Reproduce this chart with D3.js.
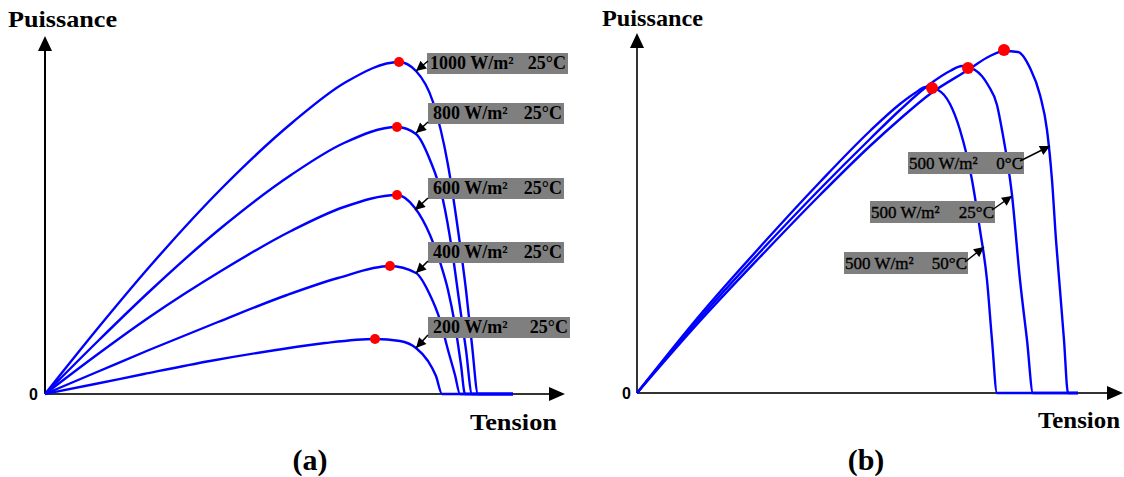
<!DOCTYPE html>
<html><head><meta charset="utf-8">
<script src="https://cdn.jsdelivr.net/npm/d3@7"></script>
<style>html,body{margin:0;padding:0;background:#fff}svg{display:block}</style>
</head><body>
<svg id="c" width="1124" height="477"></svg>
<script>
// ---------- DATA (arbitrary units: Tension, Puissance) ----------
const irradianceLabels = ["1000 W/m²", "800 W/m²", "600 W/m²", "400 W/m²", "200 W/m²"];
const tempLabelA = "25°C";
const curveA1000 = [[0,0],[5.3,6.6],[10.6,12.9],[17.7,20.6],[24.8,27.2],[30.1,31.2],[35.4,33.2],[37.1,32.3],[38.8,29.2],[40.3,22.9],[41.3,16.4],[42.1,10.4],[42.7,4.9],[43.3,0],[46.8,0]];
const curveA800  = [[0,0],[5.3,5.3],[10.6,10.4],[17.6,16.6],[24.6,21.9],[29.9,25.1],[35.2,26.7],[37.1,26.0],[38.5,23.4],[39.8,19.4],[40.7,14.4],[41.4,9.4],[42.1,4.4],[42.7,0],[46.8,0]];
const curveA600  = [[0,0],[5.3,4.0],[10.6,7.8],[17.6,12.3],[24.6,16.3],[29.9,18.7],[35.2,19.9],[37,18.6],[38.5,15.9],[39.5,13.2],[40.3,10.4],[41,6.9],[41.6,2.9],[42,0],[46.8,0]];
const curveA400  = [[0,0],[5.2,2.2],[10.4,4.4],[17.3,7.2],[24.2,9.9],[29.3,11.6],[34.5,12.8],[37.1,12.1],[38.5,9.9],[39.5,7.4],[40.3,4.4],[41,1.9],[41.5,0],[46.8,0]];
const curveA200  = [[0,0],[5,1.0],[9.9,2.0],[16.5,3.3],[23.1,4.4],[28,5.1],[33,5.5],[35.5,5.3],[37.1,4.6],[38.3,3.3],[39.1,1.8],[39.7,0],[46.8,0]];
const mppA = [[35.4,33.2],[35.2,26.7],[35.2,19.9],[34.5,12.8],[33,5.5]];
const arrowTipsA = [[37.1,32.3],[37.1,26.1],[37,18.4],[37.1,12.1],[37.1,4.6]];

const irradianceB = "500 W/m²";
const tempLabelsB = ["0°C", "25°C", "50°C"];
const curveB0  = [[0,0],[6.3,7.2],[12.3,13.6],[18.3,19.8],[23.3,24.7],[26.3,27.4],[29.3,29.9],[33.1,32.3],[35.3,33.7],[36.7,34.2],[38.1,34.1],[39.3,32.5],[40.3,29.8],[41,26.3],[41.5,21.3],[41.9,15.3],[42.3,10.3],[42.7,5.3],[43.1,0],[44.1,0]];
const curveB25 = [[0,0],[6.3,7.5],[12.3,14.1],[18.3,20.4],[23.3,25.4],[26.3,28.3],[29.3,30.9],[31.3,32.2],[32.5,32.7],[33.8,32.3],[35.1,30.8],[36,28.8],[36.5,26.3],[37.5,19.8],[38.3,11.3],[39,5.3],[39.6,0],[44.1,0]];
const curveB50 = [[0,0],[6.3,7.8],[12.3,14.6],[18.3,21.1],[23.3,26.2],[26.3,28.9],[27.8,30.0],[28.9,30.6],[30.1,30.3],[31.3,28.9],[32.3,26.3],[33.5,21.3],[34.3,16.3],[35,11.3],[35.5,5.3],[36,0],[44.1,0]];
const mppB = [[36.7,34.3],[33.1,32.5],[29.5,30.5]];
const arrowTipsB = [[41.3,24.7],[37.5,19.7],[34.7,14.6]];

const axisTitles = {y:"Puissance", x:"Tension", zero:"0"};
const panelTags = ["(a)", "(b)"];

// ---------- LAYOUT ----------
const svg = d3.select("#c");
const SERIF = "'Liberation Serif','Times New Roman',serif";
const BLUE = "#0000ff", RED = "#ff0000", GREY = "#7f7f7f";

const xA = d3.scaleLinear().domain([0, 52]).range([45, 565]);
const yA = d3.scaleLinear().domain([0, 35.8]).range([394, 36]);
const xB = d3.scaleLinear().domain([0, 48.6]).range([637, 1123]);
const yB = d3.scaleLinear().domain([0, 36]).range([393, 33]);

const defs = svg.append("defs");
defs.append("marker").attr("id","ah").attr("markerUnits","userSpaceOnUse")
  .attr("viewBox","0 0 10 10").attr("refX",10).attr("refY",5)
  .attr("markerWidth",11).attr("markerHeight",10).attr("orient","auto")
  .append("path").attr("d","M0,0 L10,5 L0,10 Z").attr("fill","#000");

function axes(x, y, yw, xw, titleY, titleX, zeroX) {
  const [x0, x1] = x.range(), [y0, y1] = y.range();
  const g = svg.append("g");
  g.append("line").attr("x1",x(0)).attr("y1",y(0)).attr("x2",x(0)).attr("y2",y1+12)
    .attr("stroke","#000").attr("stroke-width",yw);
  g.append("path").attr("d",`M${x(0)},${y1} L${x(0)-7},${y1+15} L${x(0)+7},${y1+15} Z`).attr("fill","#000");
  g.append("line").attr("x1",x(0)).attr("y1",y(0)).attr("x2",x1-12).attr("y2",y(0))
    .attr("stroke","#333").attr("stroke-width",xw);
  g.append("path").attr("d",`M${x1},${y(0)} L${x1-16},${y(0)-7} L${x1-16},${y(0)+7} Z`).attr("fill","#000");
  g.append("text").attr("x",titleY.x).attr("y",titleY.y).attr("font-family",SERIF)
    .attr("font-weight","bold").attr("font-size",23).attr("textLength",titleY.w)
    .attr("lengthAdjust","spacingAndGlyphs").text(axisTitles.y);
  g.append("text").attr("x",titleX.x).attr("y",titleX.y).attr("font-family",SERIF)
    .attr("font-weight","bold").attr("font-size",23).attr("textLength",titleX.w)
    .attr("lengthAdjust","spacingAndGlyphs").text(axisTitles.x);
  g.append("text").attr("x",zeroX).attr("y",y(0)+6).attr("text-anchor","end")
    .attr("font-family","'Liberation Sans',Arial,sans-serif").attr("font-weight","bold")
    .attr("font-size",16).text(axisTitles.zero);
}

axes(xA, yA, 2, 2, {x:8,y:27,w:109}, {x:470,y:430,w:87}, 38);
axes(xB, yB, 1.6, 2, {x:602,y:26,w:101}, {x:1038,y:428,w:82}, 631);

function drawCurves(x, y, curves) {
  const line = d3.line().x(d=>x(d[0])).y(d=>y(d[1])).curve(d3.curveMonotoneX);
  svg.append("g").selectAll("path").data(curves).join("path")
    .attr("d", line).attr("fill","none").attr("stroke",BLUE)
    .attr("stroke-width",2.4).attr("stroke-linejoin","round");
}
drawCurves(xA, yA, [curveA200, curveA400, curveA600, curveA800, curveA1000]);
drawCurves(xB, yB, [curveB50, curveB25, curveB0]);

svg.append("g").selectAll("circle").data(mppA).join("circle")
  .attr("cx",d=>xA(d[0])).attr("cy",d=>yA(d[1])).attr("r",5).attr("fill",RED);
svg.append("g").selectAll("circle").data(mppB).join("circle")
  .attr("cx",d=>xB(d[0])).attr("cy",d=>yB(d[1])).attr("r",6).attr("fill",RED);

// annotation boxes (layout, in pixels)
const boxesA = [{x:427,y:53,w:141,sx:428,sy:61},{x:428,y:103,w:136,sx:428,sy:122},{x:428,y:178,w:136,sx:428,sy:198},
                {x:428,y:242,w:136,sx:428,sy:261},{x:428,y:317,w:142,sx:428,sy:335}];
const boxesB = [{x:908,y:152,w:116,sx:1020,sy:161},{x:870,y:201,w:125,sx:992,sy:210},{x:844,y:252,w:124,sx:965,sy:262}];

const gA = svg.append("g");
boxesA.forEach((b,i)=>{
  gA.append("rect").attr("x",b.x).attr("y",b.y).attr("width",b.w).attr("height",21).attr("fill",GREY);
  gA.append("text").attr("x",b.x+ (i===0?3:5)).attr("y",b.y+16).attr("font-family",SERIF)
    .attr("font-weight","bold").attr("font-size",18).text(irradianceLabels[i]);
  gA.append("text").attr("x",b.x+b.w-2).attr("y",b.y+16).attr("text-anchor","end").attr("font-family",SERIF)
    .attr("font-weight","bold").attr("font-size",18).text(tempLabelA);
  const t = arrowTipsA[i];
  gA.append("line").attr("x1",b.sx).attr("y1",b.sy).attr("x2",xA(t[0])).attr("y2",yA(t[1]))
    .attr("stroke","#000").attr("stroke-width",1.6).attr("marker-end","url(#ah)");
});
const gB = svg.append("g");
boxesB.forEach((b,i)=>{
  gB.append("rect").attr("x",b.x).attr("y",b.y).attr("width",b.w).attr("height",22).attr("fill",GREY);
  gB.append("text").attr("x",b.x+1).attr("y",b.y+17).attr("font-family",SERIF)
    .attr("font-size",17).attr("stroke","#000").attr("stroke-width",0.35).text(irradianceB);
  gB.append("text").attr("x",b.x+b.w-1).attr("y",b.y+17).attr("text-anchor","end").attr("font-family",SERIF)
    .attr("font-size",17).attr("stroke","#000").attr("stroke-width",0.35).text(tempLabelsB[i]);
  const t = arrowTipsB[i];
  gB.append("line").attr("x1",b.sx).attr("y1",b.sy).attr("x2",xB(t[0])).attr("y2",yB(t[1]))
    .attr("stroke","#000").attr("stroke-width",1.4).attr("marker-end","url(#ah)");
});

svg.append("text").attr("x",310).attr("y",470).attr("text-anchor","middle").attr("font-family",SERIF)
  .attr("font-weight","bold").attr("font-size",30).text(panelTags[0]);
svg.append("text").attr("x",866).attr("y",470).attr("text-anchor","middle").attr("font-family",SERIF)
  .attr("font-weight","bold").attr("font-size",30).text(panelTags[1]);
</script>
</body></html>
